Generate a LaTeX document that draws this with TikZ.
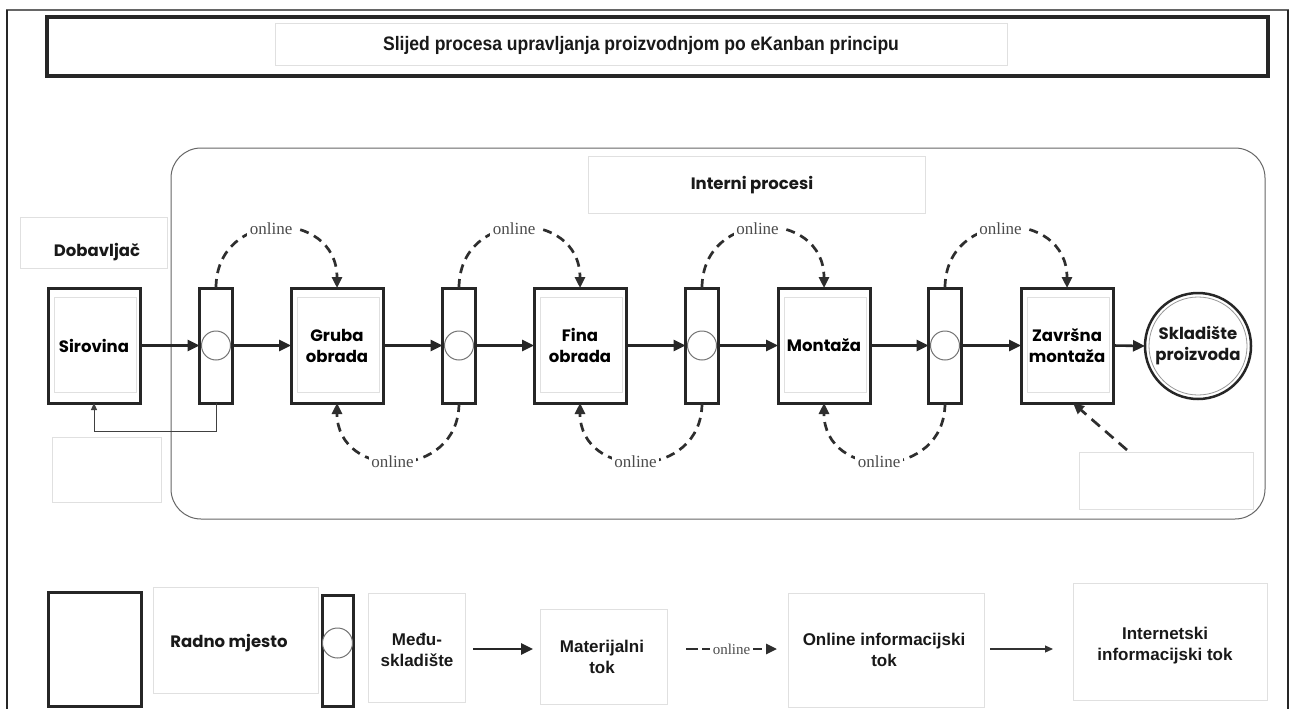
\documentclass[tikz,border=0pt]{standalone}
\usepackage{fontspec}
\setmainfont{Liberation Serif}
\newfontfamily\geo{Poppins}
\newfontfamily\ari{Liberation Sans}
\newfontfamily\tit{Liberation Sans}[FakeStretch=0.9]
\usetikzlibrary{arrows.meta,calc}
\begin{document}
\begin{tikzpicture}[x=1pt,y=-1pt,
  every node/.style={inner sep=0pt, outer sep=0pt},
  work/.style={draw=black!85, line width=3pt, minimum width=92pt, minimum height=115pt, align=center, font=\geo\bfseries\fontsize{16.5}{21}\selectfont},
  buf/.style={draw=black!85, line width=3pt, minimum width=33pt, minimum height=115pt},
  bufcirc/.style={draw=black!55, line width=1pt, fill=white},
  faint/.style={draw=black!12, line width=0.8pt},
  flow/.style={draw=black!85, line width=2.6pt, -{Triangle[length=12pt,width=11pt]}},
  onl/.style={draw=black!82, line width=2.7pt, dash pattern=on 9pt off 6pt, -{Triangle[length=11pt,width=10pt]}},
  lbl/.style={fill=white, inner sep=2.5pt, text=black!70, font=\fontsize{17}{17}\selectfont},
  geotext/.style={align=center, text=black!90, font=\geo\bfseries\fontsize{16.5}{21}\selectfont},
  aritext/.style={align=center, text=black!90, font=\ari\bfseries\fontsize{17}{21}\selectfont}
]
\useasboundingbox (0,0) rectangle (1295,709);
\fill[white] (0,0) rectangle (1295,709);
% outer frame (open at bottom)
\draw[black!60, line width=1.5pt] (7,720) -- (7,10) -- (1288,10) -- (1288,720);
\draw[black!85, line width=2pt] (7,720) -- (7,10);
\draw[black!85, line width=2pt] (1288,10) -- (1288,720);
% title
\draw[black!85, line width=3.5pt] (47,17) rectangle (1268,76);
\draw[faint] (275,23) rectangle (1007,65);
\node[font=\tit\bfseries\fontsize{19.5}{22}\selectfont, text=black!90] (title) at (641,45) {Slijed procesa upravljanja proizvodnjom po eKanban principu};
% internal process frame
\draw[black!60, line width=1pt, rounded corners=30pt] (171,148) rectangle (1265,519);
\draw[faint] (588,156) rectangle (925,213);
\node[geotext] (interni) at (752,185) {Interni procesi};
\draw[faint] (20,217) rectangle (167,268);
\node[geotext] (dob) at (97,252) {Dobavljač};
\draw[faint] (52,437) rectangle (161,502);
\draw[faint] (1079,452) rectangle (1253,509);
% inner faint boxes of work places
\foreach \cx in {94,337,580,824,1067}{
  \draw[faint] (\cx-40,297) rectangle (\cx+42,392);
}
% work places and buffers
\node[work] (sir) at (94,345.5) {Sirovina};
\node[buf] (b1) at (216,345.5) {};
\node[work] (gru) at (337,345.5) {Gruba\\obrada};
\node[buf] (b2) at (459,345.5) {};
\node[work] (fin) at (580,345.5) {Fina\\obrada};
\node[buf] (b3) at (702,345.5) {};
\node[work] (mon) at (824,345.5) {Montaža};
\node[buf] (b4) at (945,345.5) {};
\node[work] (zav) at (1067,345.5) {Završna\\montaža};
\foreach \b in {b1,b2,b3,b4}{
  \draw[bufcirc] (\b.center) circle[radius=14.5pt];
}
\node[circle, draw=black!85, line width=2.5pt, minimum size=106pt, geotext] (skl) at (1198,346) {Skladište\\proizvoda};
\draw[black!40, line width=0.8pt] (skl.center) circle[radius=49pt];
% material flow
\draw[flow] (sir.east) -- (b1.west);
\draw[flow] (b1.east) -- (gru.west);
\draw[flow] (gru.east) -- (b2.west);
\draw[flow] (b2.east) -- (fin.west);
\draw[flow] (fin.east) -- (b3.west);
\draw[flow] (b3.east) -- (mon.west);
\draw[flow] (mon.east) -- (b4.west);
\draw[flow] (b4.east) -- (zav.west);
\draw[flow] (zav.east) -- (skl.west);
% feedback to supplier
\draw[black!75, line width=1pt, -{Triangle[length=7pt,width=6pt]}] (b1.south) -- ++(0,28) -| (sir.south);
% online signals, top
\draw[onl] (b1.north) .. controls +(0,-80) and +(0,-80) .. node[lbl, pos=0.47] {online} (gru.north);
\draw[onl] (b2.north) .. controls +(0,-80) and +(0,-80) .. node[lbl, pos=0.47] {online} (fin.north);
\draw[onl] (b3.north) .. controls +(0,-80) and +(0,-80) .. node[lbl, pos=0.47] {online} (mon.north);
\draw[onl] (b4.north) .. controls +(0,-80) and +(0,-80) .. node[lbl, pos=0.47] {online} (zav.north);
% online signals, bottom
\draw[onl] (b2.south) .. controls +(0,78) and +(0,78) .. node[lbl, pos=0.53] {online} (gru.south);
\draw[onl] (b3.south) .. controls +(0,78) and +(0,78) .. node[lbl, pos=0.53] {online} (fin.south);
\draw[onl] (b4.south) .. controls +(0,78) and +(0,78) .. node[lbl, pos=0.53] {online} (mon.south);
\coordinate (ext) at (1127,450);
\draw[onl, dash pattern=on 11pt off 7pt] (ext) -- ([xshift=6pt]zav.south);
% legend
\node[draw=black!85, line width=3pt, minimum width=93pt, minimum height=114pt] (lwork) at (94.5,649) {};
\draw[faint] (153,587) rectangle (318,693);
\node[geotext] (lworktxt) at (229,643) {Radno mjesto};
\node[buf, minimum height=111pt, minimum width=31pt] (lbuf) at (337.5,650.5) {};
\draw[bufcirc] (337.5,643) circle[radius=15pt];
\draw[faint] (368,593) rectangle (465,702);
\node[aritext] (lbuftxt) at (417,650) {Međ{u}-\\skladište};
\coordinate (m1) at (473,649);
\coordinate (m2) at (533,649);
\draw[flow] (m1) -- (m2);
\draw[faint] (540,609) rectangle (667,704);
\node[aritext] (mattxt) at (602,657) {Materijalni\\tok};
\coordinate (o1) at (686,649);
\coordinate (o2) at (777,649);
\draw[onl, line width=2.6pt, dash pattern=on 12pt off 4pt, -{Triangle[length=11pt,width=10pt]}] (o1) -- node[lbl, inner sep=3pt, font=\fontsize{15}{15}\selectfont] {online} (o2);
\draw[faint] (788,593) rectangle (984,707);
\node[aritext] (onltxt) at (884,650) {Online informacijski\\tok};
\coordinate (i1) at (990,649);
\coordinate (i2) at (1053,649);
\draw[black!80, line width=1.2pt, -{Triangle[length=8pt,width=7pt]}] (i1) -- (i2);
\draw[faint] (1073,583) rectangle (1267,700);
\node[aritext] (inttxt) at (1165,646) {Internetski\\informacijski tok};
\end{tikzpicture}
\end{document}
